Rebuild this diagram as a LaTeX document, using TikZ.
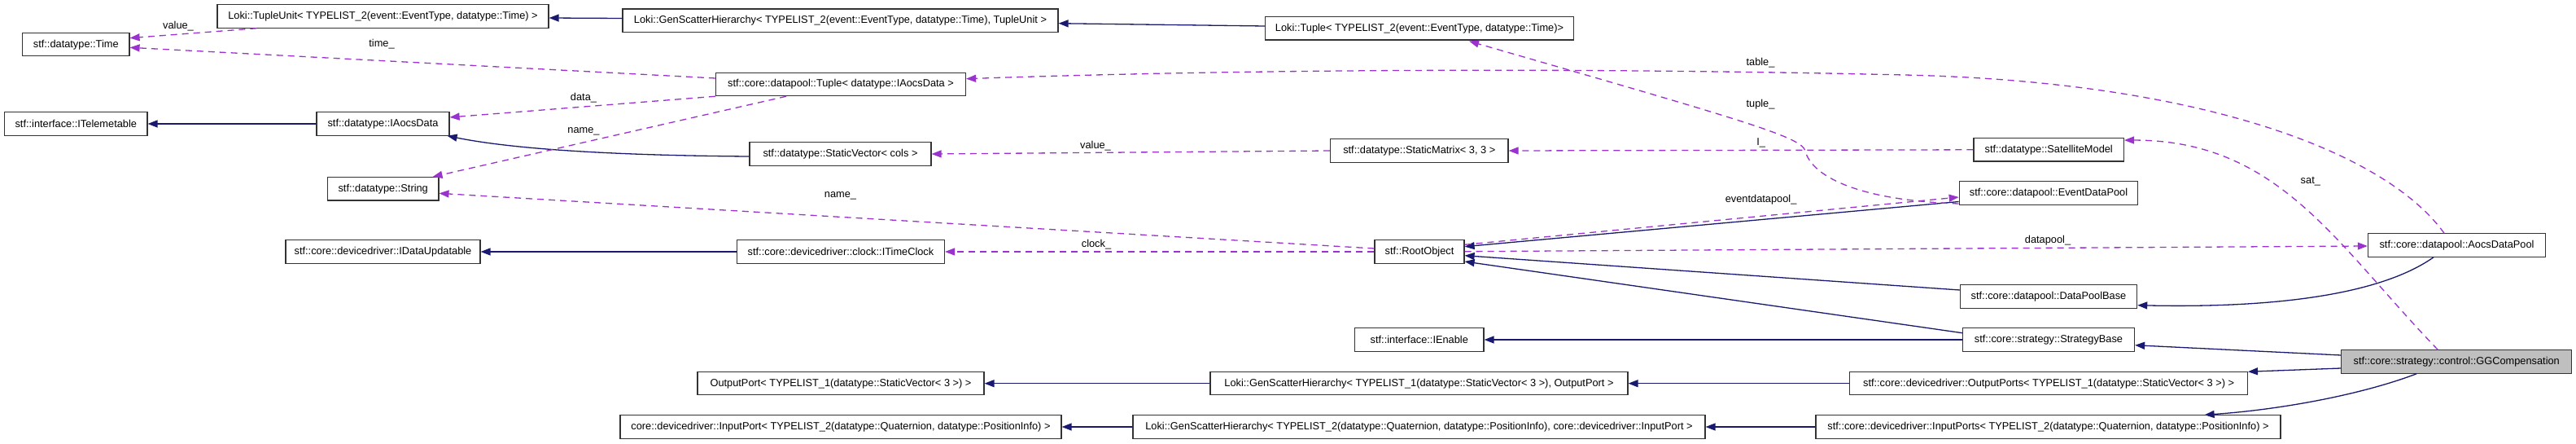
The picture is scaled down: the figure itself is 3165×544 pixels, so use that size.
\documentclass[tikz,border=0pt]{standalone}
\usepackage{fontspec}
\setmainfont{Liberation Sans}
\usetikzlibrary{arrows.meta,calc}
\definecolor{inhcol}{RGB}{25,25,112}
\definecolor{usecol}{RGB}{154,50,205}
\definecolor{ggcfill}{RGB}{191,191,191}
\tikzset{
  cls/.style={draw=black!80, line width=1.2pt, rectangle, inner sep=0pt, minimum height=28.3pt, fill=white},
  inh/.style={draw=inhcol, line width=1.3pt, -{Triangle[length=12pt,width=9pt]}},
  use/.style={draw=usecol, line width=1.3pt, dash pattern=on 8pt off 6pt, -{Triangle[length=12pt,width=9pt]}},
  lbl/.style={inner sep=0pt, text=black},
}
\begin{document}
\begin{tikzpicture}[x=1pt, y=-1pt, font=\fontsize{12.8}{15}\selectfont]
\fill[white] (0,0) rectangle (3165,544);
\useasboundingbox (0,0) rectangle (3165,544);
% nodes
\node[cls, minimum width=407pt] (tupleunit) at (470.5,20) {Loki::TupleUnit< TYPELIST\_2(event::EventType, datatype::Time) >};
\node[cls, minimum width=535pt] (gsTime) at (1032.5,25.2) {Loki::GenScatterHierarchy< TYPELIST\_2(event::EventType, datatype::Time), TupleUnit >};
\node[cls, minimum width=379pt] (lokiTuple) at (1744,34.8) {Loki::Tuple< TYPELIST\_2(event::EventType, datatype::Time)>};
\node[cls, minimum width=131.4pt] (time) at (93.3,54.7) {stf::datatype::Time};
\node[cls, minimum width=307pt] (tupleA) at (1033,103.5) {stf::core::datapool::Tuple< datatype::IAocsData >};
\node[cls, minimum width=175.4pt] (itelem) at (93.3,152) {stf::interface::ITelemetable};
\node[cls, minimum width=163pt] (iaocs) at (470.5,152) {stf::datatype::IAocsData};
\node[cls, minimum width=223pt] (staticvec) at (1032.5,189) {stf::datatype::StaticVector< cols >};
\node[cls, minimum width=218.5pt] (staticmat) at (1743.8,185) {stf::datatype::StaticMatrix< 3, 3 >};
\node[cls, minimum width=184.4pt] (satmodel) at (2517.2,183.8) {stf::datatype::SatelliteModel};
\node[cls, minimum width=136.5pt] (string) at (470.7,231.8) {stf::datatype::String};
\node[cls, minimum width=219.5pt] (eventdp) at (2517,237) {stf::core::datapool::EventDataPool};
\node[cls, minimum width=239pt] (idataupd) at (470.5,309) {stf::core::devicedriver::IDataUpdatable};
\node[cls, minimum width=255pt] (itimeclock) at (1033,309) {stf::core::devicedriver::clock::ITimeClock};
\node[cls, minimum width=110pt] (root) at (1744,309) {stf::RootObject};
\node[cls, minimum width=218.3pt] (aocsdp) at (3018.5,301) {stf::core::datapool::AocsDataPool};
\node[cls, minimum width=217.3pt] (dpbase) at (2517,364) {stf::core::datapool::DataPoolBase};
\node[cls, minimum width=158.4pt] (ienable) at (1743.8,417) {stf::interface::IEnable};
\node[cls, minimum width=211pt] (stratbase) at (2517,417) {stf::core::strategy::StrategyBase};
\node[cls, minimum width=283pt, fill=ggcfill] (ggc) at (3018.2,444) {stf::core::strategy::control::GGCompensation};
\node[cls, minimum width=352pt] (outport) at (1033,470.7) {OutputPort< TYPELIST\_1(datatype::StaticVector< 3 >) >};
\node[cls, minimum width=513pt] (gsOut) at (1743.5,470.7) {Loki::GenScatterHierarchy< TYPELIST\_1(datatype::StaticVector< 3 >), OutputPort >};
\node[cls, minimum width=488.6pt] (outports) at (2517.1,470.7) {stf::core::devicedriver::OutputPorts< TYPELIST\_1(datatype::StaticVector< 3 >) >};
\node[cls, minimum width=542pt] (inport) at (1033,524) {core::devicedriver::InputPort< TYPELIST\_2(datatype::Quaternion, datatype::PositionInfo) >};
\node[cls, minimum width=703pt] (gsIn) at (1743.5,524) {Loki::GenScatterHierarchy< TYPELIST\_2(datatype::Quaternion, datatype::PositionInfo), core::devicedriver::InputPort >};
\node[cls, minimum width=571pt] (inports) at (2516.5,524) {stf::core::devicedriver::InputPorts< TYPELIST\_2(datatype::Quaternion, datatype::PositionInfo) >};
% inheritance edges
\draw[inh] ($(gsTime.west)+(0,-2.7)$) -- ($(tupleunit.east)+(0,2)$);
\draw[inh] ($(lokiTuple.west)+(0,-2.8)$) -- ($(gsTime.east)+(0,3.5)$);
\draw[inh] (iaocs.west) -- (itelem.east);
\draw[inh] ($(staticvec.west)+(0,3)$) .. controls (780,191) and (640,185) .. ($(iaocs.south east)+(-3,0)$);
\draw[inh] (itimeclock.west) -- (idataupd.east);
\draw[inh] ($(eventdp.west)+(0,10.5)$) -- ($(root.east)+(0,-6.3)$);
\draw[inh] ($(dpbase.west)+(0,-8)$) -- ($(root.east)+(0,4.7)$);
\draw[inh] ($(stratbase.west)+(0,-8.3)$) -- ($(root.east)+(0,12)$);
\draw[inh] (stratbase.west) -- (ienable.east);
\draw[inh] ($(aocsdp.south)+(-28.5,0)$) .. controls (2920,365) and (2780,378) .. ($(dpbase.east)+(0,10.7)$);
\draw[inh] ($(ggc.west)+(0,-8)$) -- ($(stratbase.east)+(0,6.7)$);
\draw[inh] ($(ggc.west)+(0,8)$) -- ($(outports.north east)+(0,0.3)$);
\draw[inh] ($(ggc.south)+(-49,0)$) .. controls (2900,485) and (2800,503) .. ($(inports.north east)+(-94,0)$);
\draw[inh] (outports.west) -- (gsOut.east);
\draw[inh] (gsOut.west) -- (outport.east);
\draw[inh] (inports.west) -- (gsIn.east);
\draw[inh] (gsIn.west) -- (inport.east);
% usage edges
\draw[use] ($(tupleunit.south west)+(49,0)$) -- ($(time.east)+(0,-8)$);
\draw[use] ($(tupleA.west)+(0,-7.5)$) -- ($(time.east)+(0,3.6)$);
\draw[use] (tupleA.south west) -- ($(iaocs.east)+(0,-8)$);
\draw[use] ($(tupleA.south)+(-67,0)$) -- ($(string.north east)+(-8,0)$);
\draw[use] ($(aocsdp.north)+(-15.5,0)$) .. controls (2930,185) and (2700,100) .. (2340,92) .. controls (1900,82) and (1500,86) .. ($(tupleA.east)+(0,-6.8)$);
\draw[use] ($(eventdp.west)+(0,13)$) .. controls (2280,246) and (2225,215) .. (2218,185) .. controls (2212,168) and (2150,150) .. ($(lokiTuple.south)+(61,1)$);
\draw[use] (satmodel.west) -- (staticmat.east);
\draw[use] (staticmat.west) -- (staticvec.east);
\draw[use] ($(root.west)+(0,-4)$) -- ($(string.east)+(0,5.5)$);
\draw[use] (root.west) -- (itimeclock.east);
\draw[use] ($(root.east)+(0,-8.7)$) -- ($(eventdp.west)+(0,5)$);
\draw[use] ($(root.east)+(0,-0.3)$) -- ($(aocsdp.west)+(0,1)$);
\draw[use] ($(ggc.north)+(-23,0)$) .. controls (2870,300) and (2800,172) .. ($(satmodel.north east)+(0,3)$);
% labels
\node[lbl] (lvalue1) at (219,32) {value\_};
\node[lbl] (ltime) at (469,54) {time\_};
\node[lbl] (ldata) at (717,120) {data\_};
\node[lbl] (lname1) at (717,161) {name\_};
\node[lbl] (ltable) at (2163,76.7) {table\_};
\node[lbl] (ltuple) at (2163,127.7) {tuple\_};
\node[lbl] (lI) at (2163.6,175.7) {I\_};
\node[lbl] (lvalue2) at (1346,179) {value\_};
\node[lbl] (lname2) at (1032.5,240.7) {name\_};
\node[lbl] (lclock) at (1347,299.7) {clock\_};
\node[lbl] (ledp) at (2163.6,245) {eventdatapool\_};
\node[lbl] (ldatapool) at (2516,294.7) {datapool\_};
\node[lbl] (lsat) at (2838.8,222.7) {sat\_};
\end{tikzpicture}
\end{document}
